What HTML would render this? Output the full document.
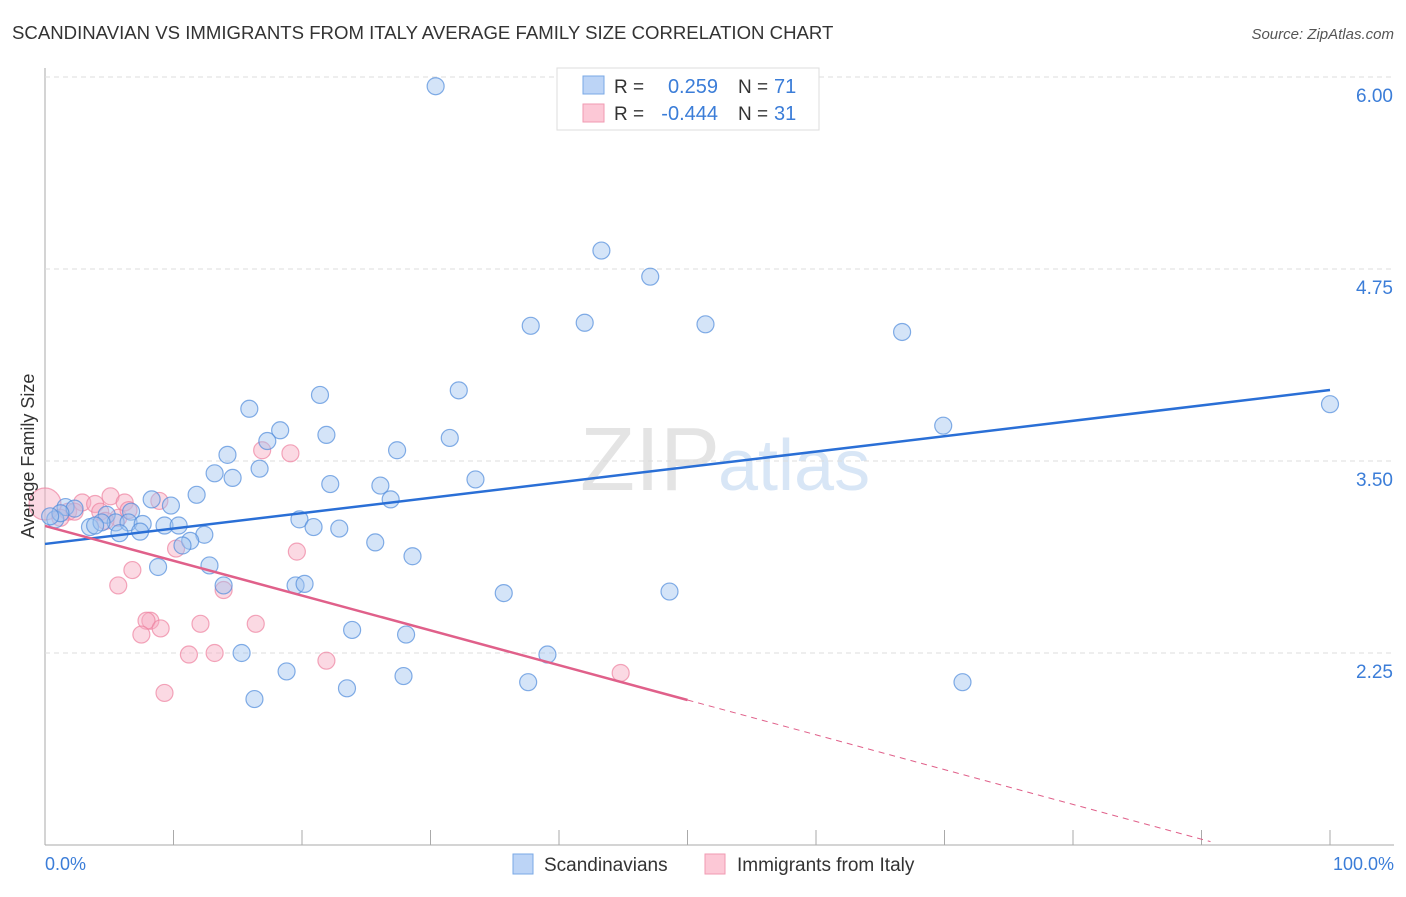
<!DOCTYPE html>
<html><head><meta charset="utf-8"><style>
body{margin:0;background:#fff;font-family:"Liberation Sans",sans-serif}
svg text{font-family:"Liberation Sans",sans-serif}
</style></head><body>
<svg id="c" width="1406" height="892">
<text x="12" y="39" font-size="18.6" fill="#333">SCANDINAVIAN VS IMMIGRANTS FROM ITALY AVERAGE FAMILY SIZE CORRELATION CHART</text>
<text x="1394" y="39" font-size="15" fill="#555" text-anchor="end" font-style="italic">Source: ZipAtlas.com</text>
<text x="720" y="490" font-size="90" fill="#e4e4e4" font-family="Liberation Serif" text-anchor="end">ZIP</text>
<text x="718" y="490" font-size="72" fill="#d8e6f6">atlas</text>
<g id="grid"></g><g id="marks"></g>
<text transform="translate(34,456) rotate(-90)" font-size="18" fill="#333" text-anchor="middle">Average Family Size</text>
<text x="45" y="870" font-size="18" fill="#3b7dd8">0.0%</text>
<text x="1394" y="870" font-size="18" fill="#3b7dd8" text-anchor="end">100.0%</text>
<g>
<rect x="557" y="68" width="262" height="62" fill="#fff" stroke="#ddd"/>
<rect x="583" y="76" width="21" height="18" fill="#bcd4f6" stroke="#7aa8e6"/>
<rect x="583" y="104" width="21" height="18" fill="#fcc8d6" stroke="#f09ab2"/>
<text x="614" y="93" font-size="19" fill="#333">R =</text><text x="718" y="93" font-size="20" fill="#3b7dd8" text-anchor="end">0.259</text>
<text x="738" y="93" font-size="19" fill="#333">N =</text><text x="774" y="93" font-size="20" fill="#3b7dd8">71</text>
<text x="614" y="120" font-size="19" fill="#333">R =</text><text x="718" y="120" font-size="20" fill="#3b7dd8" text-anchor="end">-0.444</text>
<text x="738" y="120" font-size="19" fill="#333">N =</text><text x="774" y="120" font-size="20" fill="#3b7dd8">31</text>
</g>
<g>
<rect x="513" y="854" width="20" height="20" fill="#bcd4f6" stroke="#7aa8e6"/>
<text x="544" y="871" font-size="19" fill="#333">Scandinavians</text>
<rect x="705" y="854" width="20" height="20" fill="#fcc8d6" stroke="#f09ab2"/>
<text x="737" y="871" font-size="19" fill="#333">Immigrants from Italy</text>
</g>
</svg>
<script>
const yTicks=[2.25,3.5,4.75,6.0];
const yTickLabels=["2.25","3.50","4.75","6.00"];
const blueX=[30.4,43.3,47.1,37.8,42.0,51.4,66.7,100,69.9,32.2,21.4,15.9,18.3,21.9,17.3,31.5,27.4,14.2,16.7,13.2,14.6,33.5,22.2,26.1,11.8,26.9,8.3,9.8,6.7,4.8,1.6,2.3,0.8,3.5,5.5,4.4,6.5,7.6,9.3,10.4,12.4,5.8,19.8,20.9,22.9,11.3,10.7,25.7,28.6,12.8,8.8,13.9,19.5,20.2,35.7,48.6,23.9,28.1,39.1,15.3,18.8,27.9,37.6,71.4,23.5,16.3,3.9,1.2,7.4,0.4];
const blueY=[5.94,4.87,4.70,4.38,4.40,4.39,4.34,3.87,3.73,3.96,3.93,3.84,3.70,3.67,3.63,3.65,3.57,3.54,3.45,3.42,3.39,3.38,3.35,3.34,3.28,3.25,3.25,3.21,3.17,3.15,3.20,3.19,3.12,3.07,3.10,3.10,3.10,3.09,3.08,3.08,3.02,3.03,3.12,3.07,3.06,2.98,2.95,2.97,2.88,2.82,2.81,2.69,2.69,2.70,2.64,2.65,2.40,2.37,2.24,2.25,2.13,2.10,2.06,2.06,2.02,1.95,3.08,3.16,3.04,3.14];
const pinkX=[0,1.8,2.9,3.9,5.1,6.2,8.9,16.9,19.1,1.2,2.3,4.3,5.7,4.7,6.8,5.7,10.2,13.9,19.6,8.2,7.9,7.5,9.0,12.1,16.4,11.2,13.2,21.9,44.8,9.3,6.5];
const pinkY=[3.22,3.17,3.23,3.22,3.27,3.23,3.24,3.57,3.55,3.13,3.17,3.17,3.13,3.11,2.79,2.69,2.93,2.66,2.91,2.46,2.46,2.37,2.41,2.44,2.44,2.24,2.25,2.20,2.12,1.99,3.18];
const pinkR=[16,8.5,8.5,8.5,8.5,8.5,8.5,8.5,8.5,8.5,8.5,8.5,8.5,8.5,8.5,8.5,8.5,8.5,8.5,8.5,8.5,8.5,8.5,8.5,8.5,8.5,8.5,8.5,8.5,8.5,8.5];
const blueLine=[2.96,3.962];
const pinkLine=[3.077,-0.02266];
const X=v=>45+v*12.85, Y=v=>845-(v-1)*153.6;
const NS="http://www.w3.org/2000/svg";
function mk(t,a,p){const e=document.createElementNS(NS,t);for(const k in a)e.setAttribute(k,a[k]);p.appendChild(e);return e;}
const g=document.getElementById('grid'),m=document.getElementById('marks');
let ax=mk('line',{x1:45,y1:68,x2:45,y2:845,stroke:'#aaa'},g);

let bx=mk('line',{x1:45,y1:845,x2:1394,y2:845,stroke:'#aaa'},g);

for(let i=0;i<=10;i++){let t=mk('line',{x1:X(i*10),y1:830,x2:X(i*10),y2:845,stroke:'#aaa'},g);
}
yTicks.forEach((v,i)=>{let l=mk('line',{x1:45,y1:Y(v),x2:1394,y2:Y(v),stroke:'#ddd','stroke-dasharray':'5,4'},g);

let t=mk('text',{x:1393,y:Y(v)+25,'font-size':19,fill:'#3b7dd8','text-anchor':'end'},g);t.textContent=yTickLabels[i];
});
pinkX.forEach((x,i)=>{let c=mk('circle',{cx:X(x),cy:Y(pinkY[i]),r:pinkR[i],fill:'rgba(246,170,192,0.45)',stroke:'rgba(238,130,160,0.7)','stroke-width':1.2},m);
});
blueX.forEach((x,i)=>{let c=mk('circle',{cx:X(x),cy:Y(blueY[i]),r:8.5,fill:'rgba(160,196,240,0.45)',stroke:'rgba(80,140,220,0.7)','stroke-width':1.2},m);
});
let bl=mk('line',{x1:X(0),y1:Y(blueLine[0]),x2:X(100),y2:Y(blueLine[1]),stroke:'#2a6fd6','stroke-width':2.5},m);

const pe=x=>pinkLine[0]+pinkLine[1]*x;
let pl=mk('line',{x1:X(0),y1:Y(pe(0)),x2:X(50),y2:Y(pe(50)),stroke:'#e0608a','stroke-width':2.5},m);

let pd=mk('line',{x1:X(50),y1:Y(pe(50)),x2:X(90.7),y2:Y(pe(90.7)),stroke:'#e0608a','stroke-width':1,'stroke-dasharray':'6,5'},m);

</script>
</body></html>
